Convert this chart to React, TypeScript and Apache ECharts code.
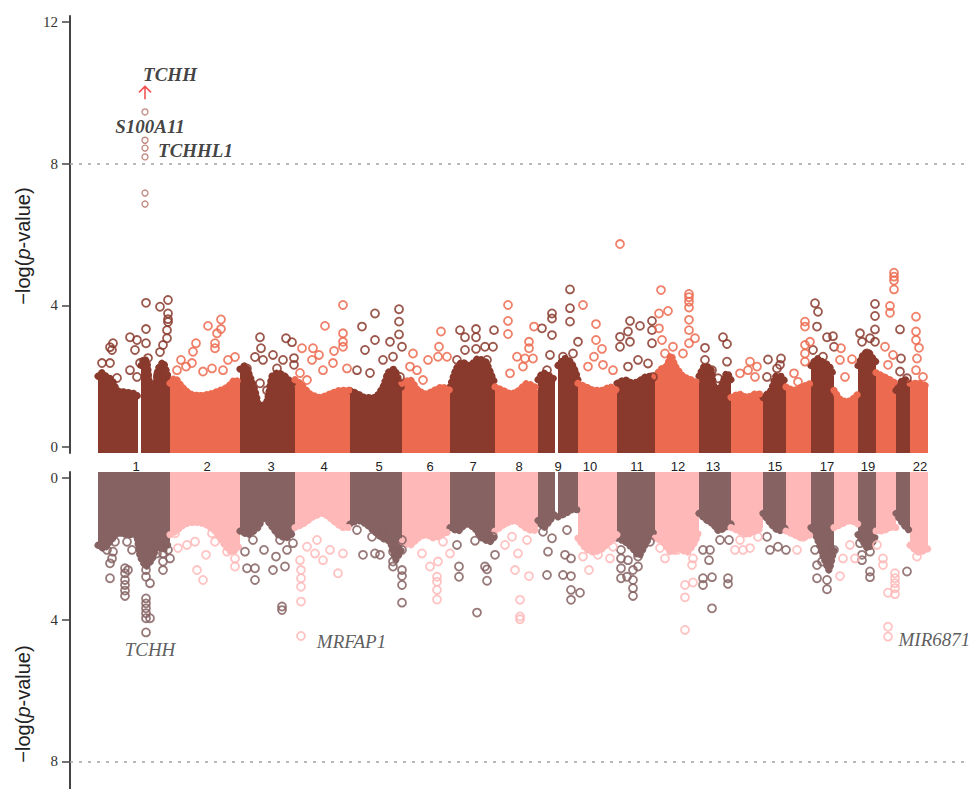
import React, { useEffect, useRef } from "react";
import * as echarts from "echarts";

// ---- chromosome layout (genome units) ----
const CHROM_NAMES = ["1","2","3","4","5","6","7","8","9","10","11","12","13","14","15","16","17","18","19","20","21","22"];
const CHROM_WIDTH = [72,70,55,55,52,48,45,43,40,39,38,44,32,32,23,25,23,24,18,20,14,18];

// chromosome tick labels shown between the panels (label, offset inside chromosome)
const CHR_LABELS = ["1","2","3","4","5","6","7","8","9","10","11","12","13","15","17","19","22"];
const CHR_LABEL_OFFSET = [38,37,31,29,29,28,23,24,20,12,20,23,14,12,16,10,10];

const Y_TICKS_TOP = [0, 4, 8, 12];
const Y_TICKS_BOTTOM = [0, 4, 8];
const THRESHOLD = 8;

// ---- dense bulk of SNPs: envelope [offset, -log p] per chromosome (null = gap) ----
const TOP_MASS: [number, number | null][][] = [
  [[0,2.0],[4,2.1],[8,2.0],[14,1.9],[19,1.6],[28,1.55],[38,1.5],[40,1.4],[41.5,null],[43,2.3],[46,2.5],[49,2.4],[52,1.7],[56,1.6],[60,2.2],[65,2.4],[70,2.0],[72,1.8]],
  [[0,1.8],[5,1.95],[12,1.7],[20,1.5],[30,1.45],[40,1.5],[50,1.6],[58,1.7],[65,1.9],[70,1.8]],
  [[0,2.2],[5,2.3],[10,2.0],[15,1.6],[20,1.1],[27,1.3],[32,2.0],[38,2.1],[45,2.0],[52,1.8],[55,1.7]],
  [[0,1.9],[5,1.8],[15,1.5],[25,1.4],[35,1.5],[45,1.6],[55,1.6]],
  [[0,1.6],[8,1.5],[15,1.4],[25,1.4],[33,1.7],[38,2.1],[44,2.2],[50,1.8],[52,1.6]],
  [[0,1.8],[8,1.9],[16,1.6],[24,1.5],[32,1.6],[40,1.7],[48,1.6]],
  [[0,1.7],[6,2.2],[12,2.4],[20,2.3],[28,2.5],[36,2.4],[42,2.0],[45,1.8]],
  [[0,1.7],[8,1.6],[16,1.5],[24,1.6],[32,1.8],[40,1.7],[43,1.6]],
  [[0,1.9],[5,2.1],[12,2.0],[17,1.9],[18.5,null],[20,2.3],[27,2.5],[33,2.4],[38,2.1],[40,1.9]],
  [[0,1.8],[8,1.7],[16,1.6],[24,1.6],[32,1.7],[39,1.6]],
  [[0,1.8],[8,1.9],[16,1.8],[24,1.9],[30,2.0],[36,2.0],[38,1.9]],
  [[0,2.0],[6,2.2],[12,2.3],[16,2.6],[20,2.3],[28,2.0],[36,1.9],[44,1.8]],
  [[0,2.0],[6,2.3],[12,2.2],[16,1.6],[22,1.7],[28,2.1],[32,1.9]],
  [[0,1.4],[8,1.5],[16,1.4],[24,1.5],[32,1.5]],
  [[0,1.4],[8,1.6],[13,2.0],[18,2.0],[23,1.8]],
  [[0,1.7],[8,1.6],[16,1.7],[25,1.8]],
  [[0,2.3],[6,2.5],[12,2.4],[18,2.3],[23,2.0]],
  [[0,1.6],[8,1.3],[16,1.3],[24,1.5]],
  [[0,2.3],[5,2.6],[10,2.7],[15,2.5],[18,2.4]],
  [[0,2.1],[7,2.0],[14,1.9],[20,1.8]],
  [[0,1.6],[7,1.9],[14,1.9]],
  [[0,1.8],[9,1.8],[18,1.7]],
];

const BOTTOM_MASS: [number, number | null][][] = [
  [[0,1.9],[6,2.0],[12,1.8],[20,1.55],[30,1.6],[38,1.6],[42,2.2],[48,2.5],[54,2.3],[60,1.9],[66,2.0],[72,1.8]],
  [[0,1.6],[6,1.5],[15,1.3],[25,1.25],[35,1.3],[45,1.5],[55,1.9],[62,2.1],[70,1.9]],
  [[0,1.5],[8,1.6],[18,1.4],[24,1.1],[30,1.3],[38,1.6],[46,1.7],[55,1.5]],
  [[0,1.4],[8,1.3],[18,1.1],[28,1.0],[38,1.2],[48,1.4],[55,1.4]],
  [[0,1.3],[8,1.2],[16,1.3],[24,1.5],[32,1.7],[40,1.8],[46,2.3],[52,2.0]],
  [[0,1.8],[8,1.9],[16,1.7],[24,1.6],[32,1.7],[40,1.6],[48,1.5]],
  [[0,1.4],[8,1.5],[16,1.3],[24,1.4],[32,1.7],[40,1.8],[45,1.6]],
  [[0,1.5],[10,1.3],[20,1.2],[30,1.4],[38,1.5],[43,1.4]],
  [[0,1.2],[6,1.4],[12,1.2],[17,1.0],[18.5,null],[20,1.1],[28,1.0],[34,0.9],[40,0.9]],
  [[0,1.7],[8,2.0],[16,2.1],[24,2.0],[32,1.8],[39,1.6]],
  [[0,1.7],[8,1.8],[16,2.0],[22,2.2],[28,1.9],[34,1.6],[38,1.5]],
  [[0,1.7],[8,1.8],[16,2.1],[24,2.0],[32,2.1],[40,1.8],[44,1.5]],
  [[0,1.0],[8,1.2],[14,1.3],[20,1.5],[26,1.4],[32,1.3]],
  [[0,1.4],[8,1.5],[16,1.6],[24,1.5],[32,1.4]],
  [[0,1.0],[8,1.3],[16,1.5],[23,1.4]],
  [[0,1.5],[8,1.6],[16,1.7],[25,1.6]],
  [[0,1.4],[6,1.7],[12,2.2],[18,2.6],[23,2.0]],
  [[0,1.4],[8,1.3],[16,1.2],[24,1.3]],
  [[0,1.6],[5,1.8],[10,2.0],[15,1.8],[18,1.6]],
  [[0,1.5],[7,1.5],[14,1.4],[20,1.4]],
  [[0,1.0],[7,1.3],[14,1.5]],
  [[0,1.9],[9,2.1],[18,2.0]],
];

// ---- individual SNPs above the bulk: [chromosome, offset, -log p] ----
const TOP_POINTS: [number, number, number][] = [
  [1,48,4.07],[1,62,3.96],[1,70,4.15],[1,70,3.77],[1,70,3.61],[1,70,3.53],[1,48,3.33],[1,69,3.3],[1,32,3.1],[1,39,3.02],[1,48,2.93],[1,15,2.93],[1,12,2.82],[1,14,2.74],[1,37,2.74],[1,65,2.88],[1,69,3.07],[1,4,2.37],[1,12,2.37],[1,32,2.17],[1,39,1.98],[1,50,2.51],[1,60,2.03],[1,62,2.68],[1,19,1.95],[1,42,2.37],
  [2,38,3.42],[2,51,3.6],[2,51,3.33],[2,47,3.21],[2,45,2.93],[2,45,2.79],[2,26,2.93],[2,23,2.69],[2,11,2.46],[2,16,2.27],[2,33,2.13],[2,42,2.22],[2,53,2.17],[2,65,2.54],[2,58,2.46],[2,22,2.37],[2,7,2.17],
  [3,20,3.1],[3,21,2.79],[3,46,3.07],[3,52,2.96],[3,15,2.54],[3,33,2.6],[3,43,2.46],[3,54,2.51],[3,54,2.32],[3,7,2.22],[3,23,2.46],[3,37,2.22],[3,20,1.8],[3,27,1.6],
  [4,48,4.01],[4,30,3.42],[4,48,3.21],[4,48,2.97],[4,48,2.83],[4,39,2.71],[4,7,2.79],[4,18,2.79],[4,24,2.6],[4,17,2.46],[4,38,2.37],[4,28,2.17],[4,5,2.09],[4,52,2.22],[4,12,1.89],
  [5,25,3.77],[5,49,3.89],[5,49,3.54],[5,49,3.18],[5,12,3.4],[5,40,2.97],[5,25,3.02],[5,15,2.74],[5,43,2.55],[5,52,2.83],[5,7,2.17],[5,33,2.46],[5,20,2.09],[5,50,1.98],
  [6,39,3.26],[6,37,2.83],[6,26,2.46],[6,36,2.55],[6,45,2.55],[6,11,2.64],[6,15,2.17],[6,21,1.89],[6,8,2.27],
  [7,10,3.3],[7,26,3.33],[7,15,3.1],[7,26,3.1],[7,44,3.3],[7,26,2.77],[7,35,2.83],[7,43,2.83],[7,15,2.74],[7,17,2.27],[7,7,2.46],[7,37,2.46],
  [8,13,4.01],[8,13,3.56],[8,13,3.19],[8,39,3.4],[8,34,2.97],[8,34,2.79],[8,22,2.55],[8,30,2.5],[8,38,2.5],[8,28,2.27],[8,15,2.08],
  [9,4,3.35],[9,14,3.77],[9,14,3.63],[9,14,3.16],[9,32,4.45],[9,32,3.92],[9,32,3.54],[9,40,2.97],[9,25,2.55],[9,12,2.6],[9,9,2.17],[9,35,2.64],
  [10,5,4.01],[10,18,3.47],[10,18,3.02],[10,24,2.77],[10,16,2.55],[10,25,2.32],[10,10,2.27],[10,35,2.17],[10,42,5.73],
  [11,13,3.56],[11,23,3.42],[11,11,3.26],[11,3,3.11],[11,13,2.97],[11,3,2.83],[11,21,2.46],[11,11,2.27],[11,35,3.56],[11,35,3.3],[11,35,2.93],[11,31,2.36],[11,36,1.98],
  [12,6,4.43],[12,4,3.77],[12,13,3.84],[12,4,3.35],[12,34,4.32],[12,34,4.23],[12,34,4.1],[12,34,3.94],[12,34,3.59],[12,34,3.3],[12,40,3.07],[12,34,2.93],[12,18,2.83],[12,7,3.02],[12,10,2.64],[12,28,2.64],
  [13,6,2.8],[13,24,3.1],[13,28,2.91],[13,6,2.46],[13,19,1.94],[13,28,2.41],[13,13,2.17],
  [14,9,2.08],[14,19,2.41],[14,26,2.27],[14,17,2.17],[14,24,1.98],
  [15,5,2.47],[15,18,2.5],[15,14,2.22],[15,4,1.98],[15,17,2.32],
  [16,8,2.08],[16,19,3.54],[16,19,3.4],[16,19,2.88],[16,19,2.64],[16,19,2.41],[16,24,2.97],[16,12,1.84],
  [17,4,4.06],[17,7,3.82],[17,6,3.4],[17,16,3.1],[17,22,3.13],[17,23,2.83],[17,2,2.74],[17,12,2.55],
  [18,7,2.79],[18,6,2.46],[18,18,2.48],[18,11,1.98],
  [19,17,4.04],[19,17,3.7],[19,17,3.32],[19,17,2.97],[19,2,3.21],[19,4,2.97],[19,12,3.07],[19,9,2.64],
  [20,18,4.92],[20,18,4.81],[20,18,4.7],[20,18,4.45],[20,14,3.98],[20,14,3.79],[20,9,2.83],[20,17,2.6],[20,12,2.32],
  [21,4,3.32],[21,5,2.5],[21,4,2.13],[21,11,1.94],
  [22,6,3.68],[22,6,3.26],[22,6,3.02],[22,9,2.8],[22,7,2.5],[22,6,2.17],[22,13,1.98],
];

// genome-wide significant SNPs near TCHH / S100A11 / TCHHL1 (top panel)
const TOP_HIGH: [number, number, number][] = [
  [1,47,9.46],[1,47,8.66],[1,47,8.44],[1,47,8.19],[1,47,7.17],[1,47,6.86],
];
// off-scale TCHH SNP marked with an arrow
const TOP_ARROW: [number, number, number][] = [[1,47,10.0]];

const BOTTOM_POINTS: [number, number, number][] = [
  [1,12,2.83],[1,12,2.41],[1,14,2.27],[1,9,2.03],[1,15,2.08],[1,27,2.55],[1,27,2.69],[1,27,2.88],[1,27,3.02],[1,27,3.18],[1,27,3.33],[1,30,2.6],[1,34,2.03],[1,29,1.8],[1,48,3.4],[1,48,3.54],[1,48,3.68],[1,48,3.82],[1,48,3.96],[1,52,3.96],[1,48,4.36],[1,52,2.97],[1,48,2.79],[1,48,2.6],[1,65,2.13],[1,65,2.36],[1,65,2.6],[1,72,2.27],[1,70,2.03],[1,64,1.94],[1,59,2.13],[1,17,1.8],
  [2,8,1.98],[2,17,1.89],[2,25,1.8],[2,36,2.17],[2,27,2.6],[2,33,2.88],[2,45,1.8],[2,57,2.08],[2,65,2.5],[2,65,2.27],[2,42,1.56],[2,5,1.56],
  [3,15,2.88],[3,7,2.55],[3,15,2.55],[3,5,2.08],[3,13,1.75],[3,24,2.03],[3,33,2.6],[3,42,3.63],[3,42,3.73],[3,36,2.22],[3,45,2.5],[3,47,2.03],[3,40,1.75],[3,53,1.84],
  [4,6,2.6],[4,6,2.83],[4,6,3.07],[4,6,3.49],[4,6,4.46],[4,5,2.32],[4,12,1.94],[4,20,2.13],[4,28,2.32],[4,43,2.69],[4,35,2.03],[4,48,2.13],[4,22,1.75],
  [5,13,2.17],[5,25,2.13],[5,7,1.47],[5,22,1.66],[5,33,1.52],[5,43,2.08],[5,43,2.36],[5,43,2.5],[5,52,2.6],[5,52,2.77],[5,52,3.02],[5,52,3.52],[5,52,1.75],[5,52,2.03],[5,30,2.17],
  [6,10,1.75],[6,20,2.13],[6,28,2.5],[6,36,2.36],[6,35,2.79],[6,35,2.93],[6,35,3.16],[6,35,3.43],[6,30,1.47],[6,48,2.13],[6,41,1.8],
  [7,9,2.5],[7,9,2.79],[7,7,1.89],[7,27,3.8],[7,25,1.77],[7,35,2.5],[7,37,2.58],[7,37,2.9],[7,45,2.17],[7,43,1.66],
  [8,10,1.89],[8,20,2.6],[8,25,3.44],[8,25,3.91],[8,25,3.99],[8,34,2.77],[8,23,2.13],[8,32,1.75],[8,17,1.66],
  [9,9,2.74],[9,10,2.08],[9,5,1.52],[9,14,1.7],[9,27,2.17],[9,33,2.27],[9,25,2.74],[9,33,2.77],[9,33,3.16],[9,33,3.44],[9,42,3.24],[9,29,1.47],
  [10,11,2.6],[10,15,2.03],[10,20,2.17],[10,32,2.27],[10,5,2.22],[10,35,1.94],
  [11,4,2.03],[11,4,2.27],[11,4,2.55],[11,4,2.83],[11,11,2.32],[11,16,2.6],[11,16,2.88],[11,16,3.11],[11,16,3.33],[11,21,2.5],[11,21,2.22],[11,20,1.75],[11,33,1.8],[11,10,2.79],
  [12,10,2.27],[12,5,1.98],[12,30,3.02],[12,30,3.37],[12,30,4.29],[12,38,2.95],[12,37,2.46],[12,38,2.27],[12,22,2.03],[12,33,1.89],
  [13,4,2.83],[13,4,3.02],[13,13,2.8],[13,13,3.68],[13,10,2.32],[13,11,2.03],[13,4,2.03],[13,29,2.83],[13,29,2.99],[13,30,1.75],[13,21,1.75],
  [14,4,2.03],[14,12,2.03],[14,19,1.98],[14,27,1.66],[14,9,1.75],
  [15,7,2.03],[15,15,1.94],[15,23,2.03],[15,4,1.66],
  [16,11,2.03],[16,17,1.66],
  [17,6,2.83],[17,6,2.46],[17,4,2.03],[17,16,2.88],[17,16,3.14],[17,11,2.36],[17,23,2.03],
  [18,6,2.77],[18,9,2.27],[18,21,2.27],[18,16,1.89],
  [19,4,2.17],[19,4,2.32],[19,12,2.64],[19,12,2.8],[19,2,1.84],[19,12,2.08],
  [20,7,2.27],[20,7,2.46],[20,12,3.24],[20,19,2.69],[20,19,2.83],[20,19,2.97],[20,19,3.11],[20,19,3.28],[20,12,4.2],[20,12,4.48],[20,1,1.89],
  [21,11,2.64],
  [22,7,2.22],[22,13,1.89],
];

// gene annotations: [text, chromosome, offset, -log p]
const TOP_GENES: [string, number, number, number][] = [
  ["TCHH", 1, 72, 10.52],
  ["S100A11", 1, 52, 9.05],
  ["TCHHL1", 2, 25.5, 8.36],
];
const BOTTOM_GENES: [string, number, number, number][] = [
  ["TCHH", 1, 52, 4.84],
  ["MRFAP1", 4, 56.5, 4.63],
  ["MIR6871", 20, 22, 4.55],
];

// ---- colours ----
const TOP_DARK = "#8a392d";
const TOP_LIGHT = "#ec6a4f";
const BOT_DARK = "#866262";
const BOT_LIGHT = "#ffb8b8";
const HIGH_COLOR = "#b8786e";

const STARTS: number[] = (() => {
  const s: number[] = [];
  let acc = 0;
  CHROM_WIDTH.forEach((w) => { s.push(acc); acc += w; });
  return s;
})();
const GENOME_END = STARTS[STARTS.length - 1] + CHROM_WIDTH[CHROM_WIDTH.length - 1];

const pos = (chr: number, off: number) => STARTS[chr - 1] + off;

function massData(env: [number, number | null][][], parity: number) {
  const out: (number | null)[][] = [];
  env.forEach((pts, i) => {
    if (i % 2 !== parity) return;
    pts.forEach(([o, h]) => out.push([STARTS[i] + o, h]));
    out.push([STARTS[i] + CHROM_WIDTH[i] + 0.01, null]);
  });
  return out;
}

function pointData(pts: [number, number, number][], parity: number) {
  return pts.filter((p) => (p[0] - 1) % 2 === parity).map((p) => [pos(p[0], p[1]), p[2]]);
}

const labelPositions = CHR_LABELS.map((name, i) => pos(Number(name), CHR_LABEL_OFFSET[i]));
const labelMap = new Map<number, string>();
labelPositions.forEach((p, i) => labelMap.set(p, CHR_LABELS[i]));

const X_MIN = -28;
const X_MAX = GENOME_END + 37;

function buildOption(): any {
  const axisFont = { fontFamily: "Liberation Serif", fontSize: 15, color: "#333" };
  const yCommon = {
    type: "value",
    splitLine: { show: false },
    axisLine: { show: true, onZero: false, lineStyle: { color: "#444", width: 2 } },
    axisTick: { show: true, length: 8, lineStyle: { color: "#444", width: 1.5 } },
  };
  const thresholdLine = {
    silent: true,
    symbol: ["none", "none"],
    label: { show: false },
    lineStyle: { color: "#a3a3a3", type: [3, 6], width: 1.6 },
    data: [{ yAxis: THRESHOLD }],
  };
  const mass = (env: any, idx: number, parity: number, color: string) => ({
    type: "line",
    xAxisIndex: idx,
    yAxisIndex: idx,
    data: massData(env, parity),
    showSymbol: false,
    symbol: "none",
    connectNulls: false,
    smooth: 0.15,
    silent: true,
    z: 1,
    lineStyle: { color, width: 7, type: [0.1, 5], cap: "round", join: "round" },
    areaStyle: { color, opacity: 1, origin: "start" },
  });
  const scatter = (data: any, idx: number, color: string, size = 8, extra: any = {}) => ({
    type: "scatter",
    xAxisIndex: idx,
    yAxisIndex: idx,
    data,
    symbol: "circle",
    symbolSize: size,
    silent: true,
    z: 3,
    itemStyle: { color: "rgba(255,255,255,0)", borderColor: color, borderWidth: 1.8, opacity: 0.85 },
    ...extra,
  });
  const geneLabels = (genes: [string, number, number, number][], idx: number, bold: boolean) => ({
    type: "scatter",
    xAxisIndex: idx,
    yAxisIndex: idx,
    silent: true,
    z: 5,
    symbolSize: 1,
    itemStyle: { color: "rgba(0,0,0,0)" },
    data: genes.map((g) => ({
      value: [pos(g[1], g[2]), g[3]],
      name: g[0],
      label: g[0] === "MIR6871" ? { position: "right", distance: 0 } : undefined,
    })),
    label: {
      show: true,
      position: "inside",
      formatter: (p: any) => p.name,
      fontFamily: "Liberation Serif",
      fontStyle: "italic",
      fontWeight: bold ? "bold" : "normal",
      fontSize: 19,
      color: bold ? "#111" : "#333",
    },
  });
  const titleText = (y: number) => ({
    type: "text",
    x: 23,
    y,
    rotation: Math.PI / 2,
    style: {
      text: "{a|−log(}{b|p}{a|-value)}",
      align: "center",
      verticalAlign: "middle",
      rich: {
        a: { fontFamily: "Liberation Sans", fontSize: 20, fill: "#222" },
        b: { fontFamily: "Liberation Sans", fontSize: 20, fontStyle: "italic", fill: "#222" },
      },
    },
  });

  return {
    animation: false,
    backgroundColor: "#ffffff",
    grid: [
      { left: 70, top: 16, width: 895, height: 437 },
      { left: 70, top: 472, width: 895, height: 317 },
    ],
    xAxis: [
      {
        type: "value",
        gridIndex: 0,
        min: X_MIN,
        max: X_MAX,
        axisLine: { show: false, onZero: false },
        axisTick: { show: false },
        splitLine: { show: false },
        axisLabel: {
          customValues: labelPositions,
          formatter: (v: number) => labelMap.get(v) ?? "",
          margin: 7,
          fontFamily: "Liberation Sans",
          fontSize: 13,
          color: "#222",
        },
      },
      {
        type: "value",
        gridIndex: 1,
        min: X_MIN,
        max: X_MAX,
        show: false,
      },
    ],
    yAxis: [
      {
        ...yCommon,
        gridIndex: 0,
        min: -0.169,
        max: 12.169,
        axisLabel: { ...axisFont, margin: 12, customValues: Y_TICKS_TOP },
        axisTick: { ...yCommon.axisTick, customValues: Y_TICKS_TOP },
      },
      {
        ...yCommon,
        gridIndex: 1,
        inverse: true,
        min: -0.169,
        max: 8.781,
        axisLabel: { ...axisFont, margin: 12, customValues: Y_TICKS_BOTTOM },
        axisTick: { ...yCommon.axisTick, customValues: Y_TICKS_BOTTOM },
      },
    ],
    graphic: [titleText(246), titleText(704)],
    series: [
      mass(TOP_MASS, 0, 0, TOP_DARK),
      mass(TOP_MASS, 0, 1, TOP_LIGHT),
      mass(BOTTOM_MASS, 1, 0, BOT_DARK),
      mass(BOTTOM_MASS, 1, 1, BOT_LIGHT),
      scatter(pointData(TOP_POINTS, 0), 0, TOP_DARK, 8, { markLine: thresholdLine }),
      scatter(pointData(TOP_POINTS, 1), 0, TOP_LIGHT),
      scatter(pointData(BOTTOM_POINTS, 0), 1, BOT_DARK, 8, { markLine: thresholdLine }),
      scatter(pointData(BOTTOM_POINTS, 1), 1, BOT_LIGHT),
      scatter(TOP_HIGH.map((p) => [pos(p[0], p[1]), p[2]]), 0, HIGH_COLOR, 6, {
        itemStyle: { color: "rgba(255,255,255,0)", borderColor: HIGH_COLOR, borderWidth: 1.3, opacity: 0.9 },
      }),
      {
        type: "scatter",
        xAxisIndex: 0,
        yAxisIndex: 0,
        silent: true,
        z: 4,
        data: TOP_ARROW.map((p) => [pos(p[0], p[1]), p[2]]),
        symbol: "path://M6 14 L6 1 M0.5 7 L6 1 L11.5 7",
        symbolSize: [12, 13],
        itemStyle: { color: "rgba(0,0,0,0)", borderColor: "#f02020", borderWidth: 1.6 },
      },
      geneLabels(TOP_GENES, 0, true),
      geneLabels(BOTTOM_GENES, 1, false),
    ],
  };
}

export default function App() {
  const ref = useRef<HTMLDivElement>(null);
  useEffect(() => {
    document.body.style.margin = "0";
    const chart = echarts.init(ref.current!, null, { renderer: "svg" });
    chart.setOption(buildOption());
    return () => chart.dispose();
  }, []);
  return <div ref={ref} style={{ width: 970, height: 789 }} />;
}
